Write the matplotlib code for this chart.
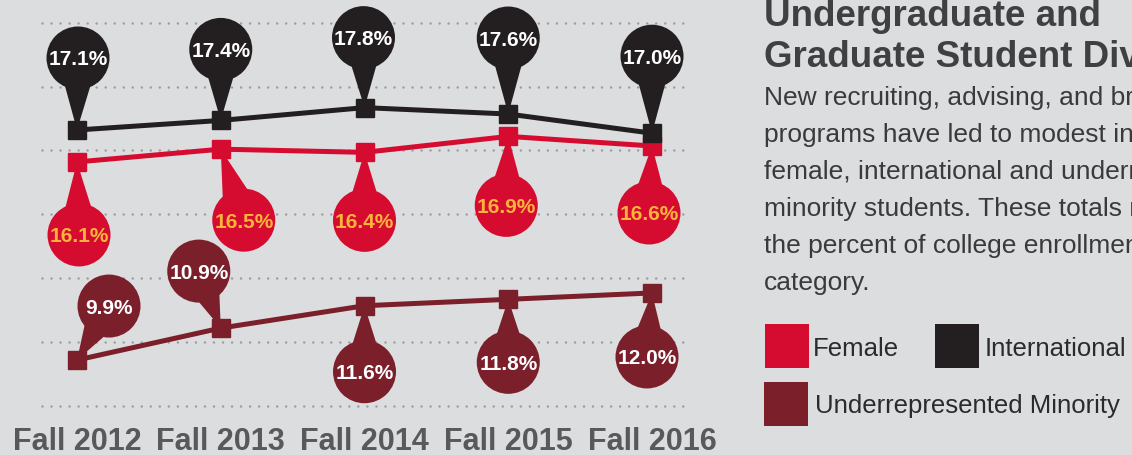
import numpy as np
import matplotlib
matplotlib.use('Agg')
import matplotlib.pyplot as plt
from matplotlib.patches import Circle, Polygon, Rectangle
from matplotlib.transforms import IdentityTransform

# data
years = ['Fall 2012', 'Fall 2013', 'Fall 2014', 'Fall 2015', 'Fall 2016']
female = [16.1, 16.5, 16.4, 16.9, 16.6]
international = [17.1, 17.4, 17.8, 17.6, 17.0]
minority = [9.9, 10.9, 11.6, 11.8, 12.0]

# where each callout bubble sits relative to its point (pixels, x right / y down)
intl_offsets = [(1, -72), (0, -71), (-1, -70), (0, -76), (0, -77)]
female_offsets = [(2, 73), (23, 71), (0, 68), (-2, 69), (-3, 67)]
minority_offsets = [(32, -54), (-22, -57), (0, 66), (0, 63), (-5, 64)]

# colours
BG = '#dcdddf'
RED = '#d50c2f'
BLACK = '#231f20'
MAROON = '#7b1f2b'
YELLOW = '#fbb33b'
W, H = 1132, 456

fig = plt.figure(figsize=(W / 100, H / 100), dpi=100, facecolor=BG)
ax = fig.add_axes([0, 0, 700 / W, 1])
ax.set_facecolor(BG)
ax.axis('off')
ax.set_xlim(-0.5357, 4.3339)
ax.set_ylim(6.928, 21.200)

x = np.arange(len(years))

# dotted guide lines
grid_y = np.arange(8.46, 21, 2.0)
ax.hlines(grid_y, -0.243, 4.25, colors='#9b9c9e', linewidth=1.8,
          linestyles=(0, (0.01, 3.6)), capstyle='round', zorder=1)

# series lines with square markers
for vals, col in [(minority, MAROON), (female, RED), (international, BLACK)]:
    ax.plot(x, vals, color=col, linewidth=3.6, marker='s', markersize=12.5,
            zorder=4, solid_joinstyle='miter')


def pin(xv, yv, off, color, label, tcolor):
    # callout bubble: circle plus a tapering pointer down to the point
    tx, ty = ax.transData.transform((xv, yv))
    cx, cy = tx + off[0], ty - off[1]
    r = 31.5
    ux, uy = tx - cx, ty - cy
    d = np.hypot(ux, uy)
    ux, uy = ux / d, uy / d
    px, py = -uy, ux
    h = 0.66 * r
    tri = Polygon([(cx + px * h, cy + py * h), (cx - px * h, cy - py * h), (tx, ty)],
                  closed=True, transform=IdentityTransform(), facecolor=color,
                  edgecolor='none', zorder=3)
    circ = Circle((cx, cy), r, transform=IdentityTransform(), facecolor=color,
                  edgecolor='none', zorder=3)
    ax.add_patch(tri)
    ax.add_patch(circ)
    ax.text(cx, cy - 1, label, transform=IdentityTransform(), ha='center', va='center',
            fontsize=15, fontweight='bold', color=tcolor,
            family='Liberation Sans', zorder=5)


for i in range(len(years)):
    pin(x[i], international[i], intl_offsets[i], BLACK, f'{international[i]:.1f}%', 'white')
    pin(x[i], female[i], female_offsets[i], RED, f'{female[i]:.1f}%', YELLOW)
    pin(x[i], minority[i], minority_offsets[i], MAROON, f'{minority[i]:.1f}%', 'white')

# category labels
for i, lab in enumerate(years):
    ax.text(x[i], 1 - 450 / H, lab, transform=ax.get_xaxis_transform(),
            ha='center', va='baseline', fontsize=22, fontweight='bold',
            color='#58595b', family='Liberation Sans')

# right-hand text panel
left = 764 / W
fig.text(left, 1 - 26 / H, 'Undergraduate and', va='baseline', fontsize=26.5,
         fontweight='bold', color='#3f4041', family='Liberation Sans')
fig.text(left, 1 - 67 / H, 'Graduate Student Diversity', va='baseline', fontsize=26.5,
         fontweight='bold', color='#3f4041', family='Liberation Sans')

body = ['New recruiting, advising, and bridge',
        'programs have led to modest increases in',
        'female, international and underrepresented',
        'minority students. These totals reflect',
        'the percent of college enrollment in each',
        'category.']
for k, line in enumerate(body):
    fig.text(left, 1 - (105 + 37 * k) / H, line, va='baseline', fontsize=19,
             color='#3a3a3b', family='Liberation Sans')

# legend
legend_items = [('Female', RED, 765, 325, 813, 356),
                ('International', BLACK, 935, 325, 985, 356),
                ('Underrepresented Minority', MAROON, 764, 383, 815, 413)]
for name, col, sx, sy, lx, ly in legend_items:
    fig.add_artist(Rectangle((sx / W, 1 - (sy + 44) / H), 44 / W, 44 / H,
                             transform=fig.transFigure, facecolor=col, edgecolor='none'))
    fig.text(lx / W, 1 - ly / H, name, va='baseline', fontsize=18.5,
             color='#2b2b2c', family='Liberation Sans')

fig.savefig('out.png', dpi=100, facecolor=BG)
